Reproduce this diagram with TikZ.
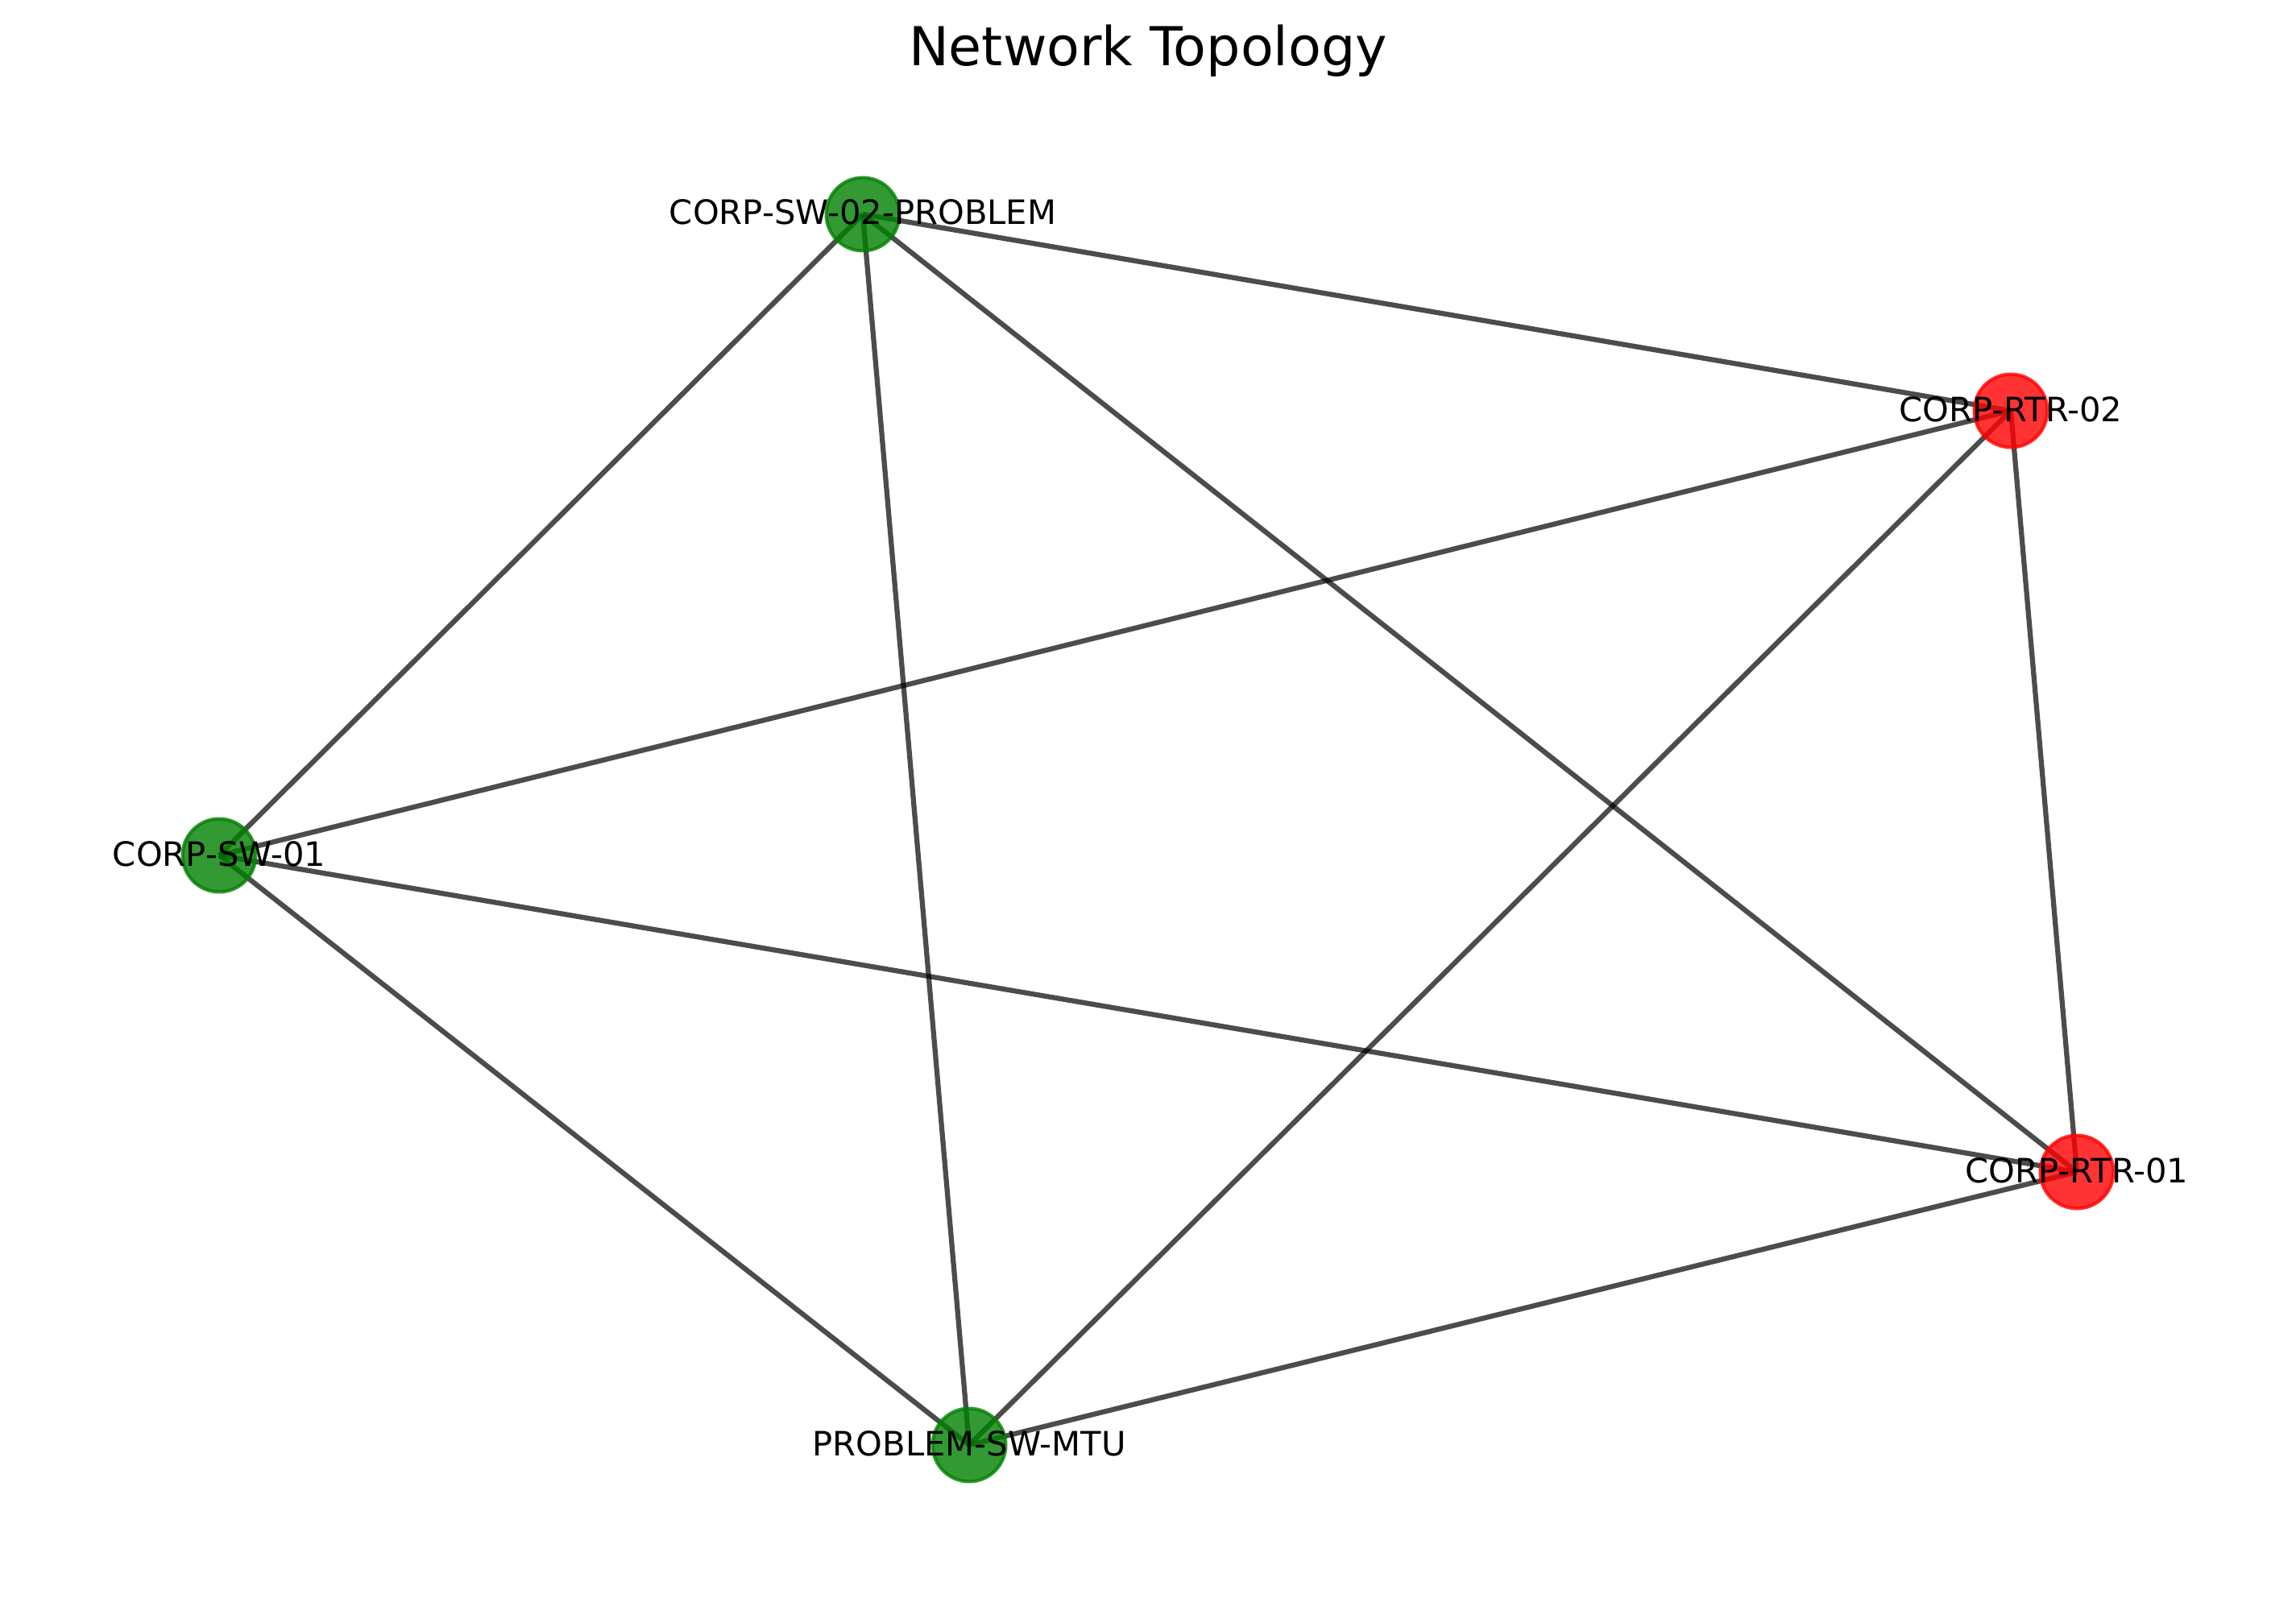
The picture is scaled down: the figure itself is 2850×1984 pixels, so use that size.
\documentclass[tikz,border=0pt]{standalone}
\usepackage{fontspec}
\setmainfont{DejaVu Sans}
\usetikzlibrary{backgrounds}
\definecolor{swgreen}{HTML}{008000}
\definecolor{rtrred}{HTML}{FF0000}
\begin{document}
\begin{tikzpicture}[x=0.24pt,y=-0.24pt,
  dev/.style={circle,inner sep=0pt,minimum size=21.8pt,line width=1pt,fill opacity=0.8,draw opacity=0.8},
  swnode/.style={dev,fill=swgreen,draw=swgreen},
  rtrnode/.style={dev,fill=rtrred,draw=rtrred},
  link/.style={line width=1.5pt,draw=black,draw opacity=0.7},
  lbl/.style={anchor=base,inner sep=0pt,font=\fontsize{10}{12}\selectfont},
  ttl/.style={anchor=base,inner sep=0pt,font=\fontsize{16}{19}\selectfont}]
\useasboundingbox (0,0) rectangle (2850,1984);
% nodes
\node[swnode]  (sw02)  at (1071,266)  {};
\node[rtrnode] (rtr02) at (2496,510)  {};
\node[swnode]  (sw01)  at (272,1062)  {};
\node[swnode]  (mtu)   at (1203,1794) {};
\node[rtrnode] (rtr01) at (2578,1455) {};
% background and edges behind nodes
\begin{scope}[on background layer]
\fill[white] (0,0) rectangle (2850,1984);
\draw[link] (sw02.center) -- (rtr02.center);
\draw[link] (sw02.center) -- (sw01.center);
\draw[link] (sw02.center) -- (mtu.center);
\draw[link] (sw02.center) -- (rtr01.center);
\draw[link] (rtr02.center) -- (sw01.center);
\draw[link] (rtr02.center) -- (mtu.center);
\draw[link] (rtr02.center) -- (rtr01.center);
\draw[link] (sw01.center) -- (rtr01.center);
\draw[link] (sw01.center) -- (mtu.center);
\draw[link] (mtu.center) -- (rtr01.center);
\end{scope}
% labels
\node[lbl] (lsw02)  at (1071,279)  {CORP-SW-02-PROBLEM};
\node[lbl] (lrtr02) at (2496,523)  {CORP-RTR-02};
\node[lbl] (lsw01)  at (272,1075)  {CORP-SW-01};
\node[lbl] (lmtu)   at (1203,1807) {PROBLEM-SW-MTU};
\node[lbl] (lrtr01) at (2578,1468) {CORP-RTR-01};
\node[ttl] (title)  at (1425,82)   {Network Topology};
\end{tikzpicture}
\end{document}
